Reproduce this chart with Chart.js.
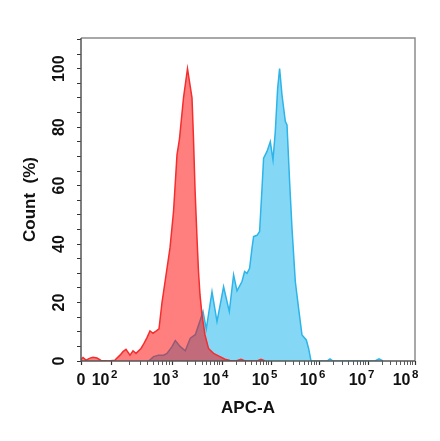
<!DOCTYPE html>
<html>
<head>
<meta charset="utf-8">
<script src="https://cdn.jsdelivr.net/npm/chart.js@4.4.1/dist/chart.umd.min.js"></script>
<style>
  html, body { margin: 0; padding: 0; background: #fff; }
  canvas { display: block; }
</style>
</head>
<body>
<canvas id="histChart" width="440" height="441"></canvas>
<script>
// Ось X - дисплейные каналы (биэкспонента), позиции декад
const xTickPos = [0, 30, 91, 141, 190, 238, 287, 334];
const xTickExp = [null, 2, 3, 4, 5, 6, 7, 8];
const yTickLabels = [0, 20, 40, 60, 80, 100];

// Красная гистограмма (контроль)
const redX = [0, 2, 5, 9, 12, 16, 20, 27, 34, 39, 42, 45, 49, 52, 55, 60, 63, 66, 69, 72, 75, 78, 81, 84, 89, 92.5, 96, 98.5, 102.5, 106.5, 111, 112.5, 114, 116, 117.5, 119, 121, 124, 127.5, 132.5, 139, 144, 149, 155, 160, 164, 176, 180, 184];
const redY = [0.5, 1.2, 0.3, 1.0, 1.3, 1.0, 0.2, 0, 0.3, 2, 3.2, 4, 2, 3.5, 2.6, 4.3, 6, 8, 10.3, 9.5, 10.2, 11, 20, 27, 38.7, 51, 70.5, 76, 90, 100, 90, 76, 59, 42, 30.6, 22.6, 15.8, 8.9, 4.3, 2.6, 1.5, 0.6, 0.2, 0, 0.6, 0, 0, 0.6, 0];

// Голубая гистограмма (образец)
const blueX = [67.6, 72.6, 77.6, 82.6, 86, 91, 94.3, 99.3, 104.3, 109.3, 114.3, 119.3, 122, 125.3, 131, 136, 142.6, 148.3, 152.6, 156, 161, 163.6, 166, 168.6, 171, 172.6, 176, 178.6, 181, 182.6, 186, 189.3, 192, 194.3, 196.6, 198.6, 201, 204.3, 206, 208.6, 211, 214.3, 217.6, 221, 225.3, 227.6, 230, 246, 249, 252, 294, 298, 302];
const blueY = [0, 1.5, 2, 2, 2.6, 4.9, 7, 4.9, 3.5, 7.8, 9, 14, 16.9, 11, 23.7, 13.5, 25.4, 16.9, 29.5, 24, 27.2, 30.6, 30, 31.7, 38.6, 42.6, 43, 44.3, 59, 69.4, 71.7, 75, 68.8, 78.5, 93, 100, 91, 82, 80.8, 61.4, 45.4, 27.2, 18, 8.9, 7.2, 4.3, 0, 0, 0.7, 0, 0, 0.7, 0];

const FONT = "'Liberation Sans', Arial, sans-serif";

// Малые деления логарифмической шкалы внутри декад
const xAllTicks = [];
xTickPos.forEach((p, i) => {
    xAllTicks.push({ value: p, major: true });
    if (i > 0 && i < xTickPos.length - 1) {
        const next = xTickPos[i + 1];
        for (let m = 2; m <= 9; m++) {
            xAllTicks.push({ value: p + (next - p) * Math.log10(m), major: false });
        }
    }
});

const toPoints = (xs, ys) => xs.map((x, i) => ({ x: x, y: ys[i] }));

// Рамка вокруг области графика
const frameBox = {
    id: 'frameBox',
    afterDatasetsDraw(chart) {
        const { ctx, chartArea: a } = chart;
        ctx.save();
        ctx.lineWidth = 1.5;
        ctx.strokeStyle = '#8c8c8c';
        ctx.beginPath();
        ctx.moveTo(a.left, a.top);
        ctx.lineTo(a.right, a.top);
        ctx.lineTo(a.right, a.bottom);
        ctx.stroke();
        ctx.strokeStyle = '#555';
        ctx.beginPath();
        ctx.moveTo(a.left, a.top);
        ctx.lineTo(a.left, a.bottom);
        ctx.lineTo(a.right, a.bottom);
        ctx.stroke();
        ctx.restore();
    }
};

// Подписи оси X в виде 10 со степенью
const powerLabels = {
    id: 'powerLabels',
    afterDraw(chart) {
        const { ctx } = chart;
        const xs = chart.scales.x;
        ctx.save();
        ctx.fillStyle = '#111';
        ctx.textBaseline = 'alphabetic';
        xTickPos.forEach((p, i) => {
            const px = xs.getPixelForValue(p);
            if (xTickExp[i] === null) {
                ctx.font = `bold 16px ${FONT}`;
                ctx.textAlign = 'center';
                ctx.fillText('0', px, 385);
                return;
            }
            const shift = i === xTickPos.length - 1 ? -4.5 : -1.5;
            ctx.font = `bold 16px ${FONT}`;
            ctx.textAlign = 'right';
            ctx.fillText('10', px + shift, 385);
            ctx.font = `bold 11.5px ${FONT}`;
            ctx.textAlign = 'left';
            ctx.fillText(String(xTickExp[i]), px + shift + 1.5, 378);
        });
        ctx.restore();
    }
};

const config = {
    type: 'line',
    data: {
        datasets: [
            {
                label: 'Control',
                data: toPoints(redX, redY),
                borderColor: 'rgb(245, 45, 45)',
                backgroundColor: 'rgba(255, 0, 0, 0.5)',
                borderWidth: 1.5,
                fill: 'origin',
                pointRadius: 0,
                tension: 0
            },
            {
                label: 'Sample',
                data: toPoints(blueX, blueY),
                borderColor: 'rgb(45, 180, 232)',
                backgroundColor: 'rgb(132, 216, 246)',
                borderWidth: 1.5,
                fill: 'origin',
                pointRadius: 0,
                tension: 0
            }
        ]
    },
    options: {
        responsive: false,
        animation: false,
        devicePixelRatio: 1,
        layout: { padding: { left: 0, right: 25, top: 38, bottom: 0 } },
        plugins: {
            legend: { display: false },
            tooltip: { enabled: false }
        },
        scales: {
            x: {
                type: 'linear',
                min: 0,
                max: 334,
                afterBuildTicks: scale => { scale.ticks = xAllTicks.map(t => ({ value: t.value, major: t.major })); },
                afterFit: scale => { scale.height = 80; },
                ticks: { display: false, autoSkip: false },
                grid: {
                    drawOnChartArea: false,
                    drawTicks: true,
                    tickLength: 4,
                    tickColor: '#333',
                    tickWidth: ctx => (ctx.tick && ctx.tick.major ? 1.2 : 0.8)
                },
                border: { display: false },
                title: {
                    display: true,
                    text: 'APC-A',
                    color: '#111',
                    font: { family: FONT, size: 17, weight: 'bold' },
                    padding: { top: 0, bottom: 22 }
                }
            },
            y: {
                type: 'linear',
                min: 0,
                max: 110.5,
                afterBuildTicks: scale => {
                    const t = [];
                    for (let v = 0; v <= 110; v += 5) t.push({ value: v });
                    scale.ticks = t;
                },
                afterFit: scale => { scale.width = 81; },
                ticks: {
                    autoSkip: false,
                    minRotation: 90,
                    maxRotation: 90,
                    crossAlign: 'center',
                    padding: 4,
                    color: '#111',
                    font: { family: FONT, size: 16, weight: 'bold' },
                    callback: v => (yTickLabels.includes(v) ? String(v) : '')
                },
                grid: {
                    drawOnChartArea: false,
                    drawTicks: true,
                    tickLength: 4,
                    tickColor: '#333',
                    tickWidth: 1
                },
                border: { display: false },
                title: {
                    display: true,
                    text: 'Count  (%)',
                    color: '#111',
                    font: { family: FONT, size: 17, weight: 'bold' },
                    padding: { top: 20, bottom: 0 }
                }
            }
        }
    },
    plugins: [frameBox, powerLabels]
};

const histChart = new Chart(document.getElementById('histChart'), config);
</script>
</body>
</html>
